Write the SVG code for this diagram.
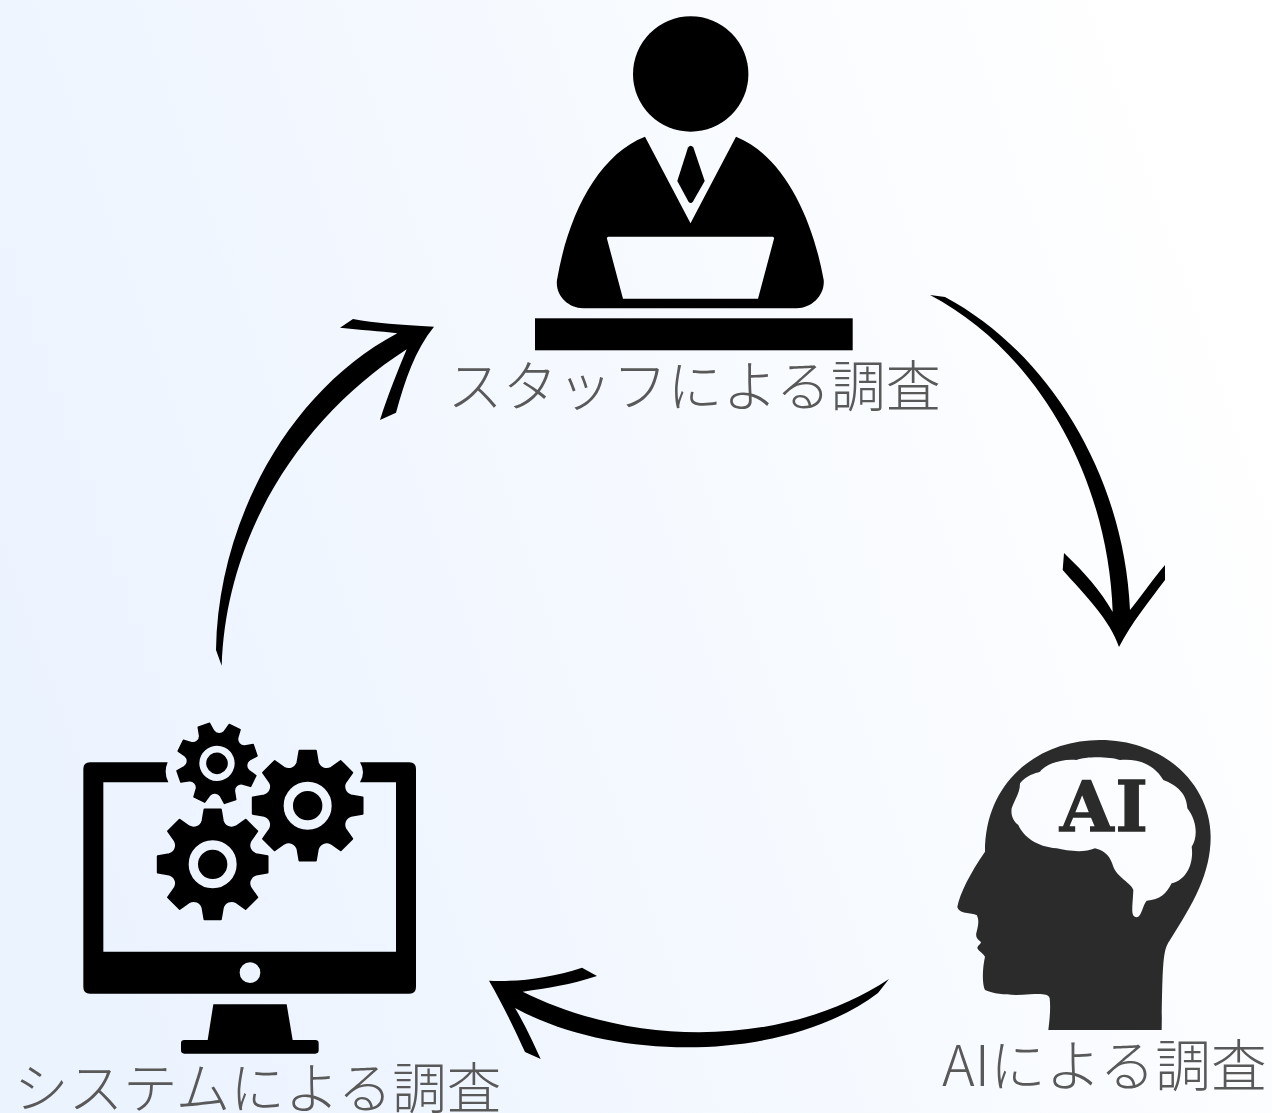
<svg xmlns="http://www.w3.org/2000/svg" xmlns:xlink="http://www.w3.org/1999/xlink" width="1272" height="1113" viewBox="0 0 1272 1113">
<style>
.lbl{font-family:"Noto Sans CJK JP","Noto Sans",sans-serif;font-weight:300;font-size:55px;fill:#595959}
.gear{fill:#000;stroke:#000;stroke-width:6;stroke-linejoin:round;fill-rule:evenodd}
.arrow{fill:#000}
</style>
<defs>
<linearGradient id="bg" x1="0" y1="0.65" x2="1" y2="0.35">
<stop offset="0" stop-color="#ebf3ff"/>
<stop offset="1" stop-color="#ffffff"/>
</linearGradient>
<path id="gearShape" class="gear" d="M-31,-133L-25,-168L25,-168L31,-133A28,28 0 0 0 72.1,-116L101.1,-136.5L136.5,-101.1L116,-72.1A28,28 0 0 0 133,-31L168,-25L168,25L133,31A28,28 0 0 0 116,72.1L136.5,101.1L101.1,136.5L72.1,116A28,28 0 0 0 31,133L25,168L-25,168L-31,133A28,28 0 0 0 -72.1,116L-101.1,136.5L-136.5,101.1L-116,72.1A28,28 0 0 0 -133,31L-168,25L-168,-25L-133,-31A28,28 0 0 0 -116,-72.1L-136.5,-101.1L-101.1,-136.5L-72.1,-116A28,28 0 0 0 -31,-133ZM-76.5,0A76.5,76.5 0 1 0 76.5,0A76.5,76.5 0 1 0 -76.5,0ZM-42,0A42,42 0 1 0 42,0A42,42 0 1 0 -42,0Z"/>
</defs>
<rect width="1272" height="1113" fill="url(#bg)"/>
<g id="staff">
<circle cx="690.7" cy="74" r="57.7"/>
<path fill-rule="evenodd" d="M645,136.7L690.5,223.3L736,136.7C782,155 812,215 823.7,280C825,295 812,308.3 796.7,308.3H583.3C568,308.3 555,295 557,280C568,215 598,155 645,136.7ZM608,236.7L606.8,238L623,298.7H758L774.2,238L773,236.7Z"/>
<path d="M688,147.5Q690.7,144 693.4,147.5L704.7,181L693,201.5Q690.7,204.5 688.4,201.5L677.3,181Z"/>
<rect x="535" y="318.3" width="317.7" height="32"/>
<text class="lbl" x="447.5" y="406">スタッフによる調査</text>
</g>
<g id="ai">
<path fill="#2b2b2b" fill-rule="evenodd" transform="translate(940,730) scale(0.33333)" d="M325,900C330,860 332,830 329,805C325,790 300,792 270,793C220,797 170,795 135,780C125,760 128,710 135,680C125,665 108,660 113,650C118,642 125,640 122,635C112,628 105,620 110,605C115,585 118,570 110,555C95,548 55,552 52,530C60,490 90,430 135,365C135,150 300,30 480,30C680,30 812,170 812,320C812,430 760,520 690,630C670,660 668,680 665,900ZM215,235C225,205 240,190 240,160C260,135 285,130 300,125C320,100 370,85 410,90C440,78 510,80 540,90C590,85 640,100 670,150C710,165 740,190 742,235C770,270 775,320 755,350C762,400 740,450 695,460C680,490 660,510 620,512C608,525 605,560 590,562C570,560 578,530 580,480C575,460 530,440 520,410C510,380 500,365 465,355C430,370 380,362 350,355C290,350 250,320 235,285C215,270 213,250 215,235Z"/>
<text x="1060" y="831" font-family="DejaVu Serif" font-weight="700" font-size="69" letter-spacing="2" fill="#2b2b2b" stroke="#2b2b2b" stroke-width="1.5">AI</text>
<text class="lbl" x="942" y="1086" style="font-size:55.7px">AIによる調査</text>
</g>
<g id="system">
<g transform="translate(70,710) scale(0.33333)">
<path fill-rule="evenodd" d="M60,157H293Q280,187 295,217H100V725H978V217H870Q888,187 870,157H1018Q1038,157 1038,177V831Q1038,851 1018,851H60Q40,851 40,831V177Q40,157 60,157ZM509,788A31,31 0 1 0 571,788A31,31 0 1 0 509,788Z"/>
<path d="M430,883H650L668,990H736Q746,990 746,1000V1021Q746,1031 736,1031H343Q333,1031 333,1021V1000Q333,990 343,990H413Z"/>
<use xlink:href="#gearShape" href="#gearShape" transform="translate(428,463) scale(0.98)"/>
<use xlink:href="#gearShape" href="#gearShape" transform="translate(713,287) scale(0.98)"/>
<use xlink:href="#gearShape" href="#gearShape" transform="translate(441,160) rotate(26) scale(0.72)"/>
</g>
<text class="lbl" x="14" y="1107.5" style="font-size:54.5px">システムによる調査</text>
</g>
<g id="connectors">
<path class="arrow" d="M930,295L945,297C1048,352 1124,475 1130,610C1140,598 1152,580 1165,565L1165,580C1150,600 1132,622 1119,647C1110,620 1085,595 1062.7,570L1064,553C1085,573 1100,590 1112.7,612C1108,475 1035,350 930,295Z"/>
<path class="arrow" d="M489,980.7C520,982 550,978 582,967.7L597,976C570,985 548,988 522.7,991.7C640,1050 790,1045 889,979L878,993C790,1060 620,1065 515,1008C525,1025 532,1040 540.7,1059L525,1052C515,1030 503,1005 489,980.7Z"/>
<path class="arrow" d="M434,326.7C400,325 375,323 353,319L340,327.7C360,330 380,331 397.3,333.3C290,390 218,520 216,650L221.7,665.7C226,535 300,418 406.7,349.3C398,370 388,395 380,420L396,412.7C405,380 415,350 434,326.7Z"/>
</g>
</svg>
